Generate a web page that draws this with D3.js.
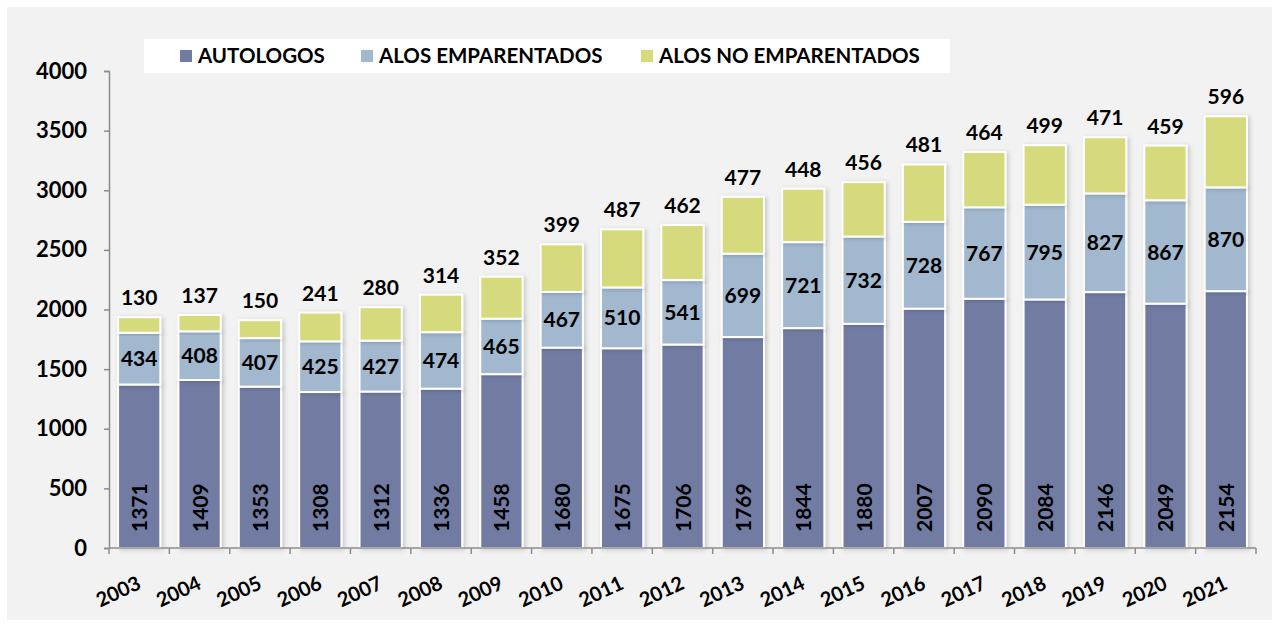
<!DOCTYPE html>
<html>
<head>
<meta charset="utf-8">
<script src="https://cdn.jsdelivr.net/npm/d3@7"></script>
<style>
  body { margin: 0; background: #fff; }
  svg { display: block; font-family: Lato, "Open Sans", sans-serif; }
</style>
</head>
<body>
<div id="chart"></div>
<script>
/* datos del gráfico */
var years = ["2003","2004","2005","2006","2007","2008","2009","2010","2011","2012",
             "2013","2014","2015","2016","2017","2018","2019","2020","2021"];
var autologos = [1371,1409,1353,1308,1312,1336,1458,1680,1675,1706,1769,1844,1880,2007,2090,2084,2146,2049,2154];
var alosEmp   = [434,408,407,425,427,474,465,467,510,541,699,721,732,728,767,795,827,867,870];
var alosNoEmp = [130,137,150,241,280,314,352,399,487,462,477,448,456,481,464,499,471,459,596];
var seriesNames = ["AUTOLOGOS", "ALOS EMPARENTADOS", "ALOS NO EMPARENTADOS"];
var yTicks = [0,500,1000,1500,2000,2500,3000,3500,4000];

var colores = ["#727ca3", "#a1b8cf", "#d5da7b"];

var W = 1279, H = 627;
var margin = { top: 71, right: 23, bottom: 79, left: 109 };

var svg = d3.select("#chart").append("svg")
    .attr("width", W).attr("height", H);

//fondo gris
svg.append("rect").attr("x", 7).attr("y", 7).attr("width", W - 14).attr("height", H - 14)
    .attr("fill", "#f2f2f2");

var defs = svg.append("defs");
var f = defs.append("filter").attr("id", "sombra")
    .attr("x", "-20%").attr("y", "-20%").attr("width", "140%").attr("height", "140%");
f.append("feDropShadow").attr("dx", 2).attr("dy", 1).attr("stdDeviation", 2)
    .attr("flood-color", "#000").attr("flood-opacity", 0.18);

var x = d3.scaleBand().domain(years)
    .range([margin.left, W - margin.right]).paddingInner(0.3).paddingOuter(0.15);
var y = d3.scaleLinear().domain([0, 4000]).range([H - margin.bottom, margin.top]);

var datos = years.map(function(yr, i) {
  return { year: yr, a: autologos[i], e: alosEmp[i], n: alosNoEmp[i] };
});
var stack = d3.stack().keys(["a", "e", "n"])(datos);

//barras apiladas
var g = svg.append("g");
stack.forEach(function(capa, k) {
  g.append("g").selectAll("rect")
    .data(capa).enter().append("rect")
      .attr("x", function(d) { return x(d.data.year); })
      .attr("y", function(d) { return y(d[1]); })
      .attr("width", x.bandwidth())
      .attr("height", function(d) { return y(d[0]) - y(d[1]); })
      .attr("fill", colores[k])
      .attr("stroke", "#fff")
      .attr("stroke-width", 2)
      .attr("filter", "url(#sombra)");
});

//eje Y
var yAxis = svg.append("g")
    .attr("transform", "translate(" + margin.left + ",0)")
    .call(d3.axisLeft(y).tickValues(yTicks).tickFormat(d3.format("d")).tickSize(5).tickPadding(17));
yAxis.select(".domain").attr("stroke", "#8c8c8c").attr("stroke-width", 1.5);
yAxis.selectAll(".tick line").attr("stroke", "#8c8c8c").attr("stroke-width", 1.5);
yAxis.selectAll("text").attr("font-size", 22).attr("font-weight", "bold")
    .attr("fill", "#000").style("font-family", "Lato, sans-serif");

//eje X
var x0 = H - margin.bottom;
svg.append("line").attr("x1", margin.left).attr("x2", W - margin.right)
    .attr("y1", x0).attr("y2", x0).attr("stroke", "#8c8c8c").attr("stroke-width", 1.5);
var bordes = d3.range(years.length + 1).map(function(i) { return margin.left + i * (W - margin.right - margin.left) / years.length; });
svg.selectAll(".xt").data(bordes).enter().append("line")
    .attr("x1", function(d) { return d; }).attr("x2", function(d) { return d; })
    .attr("y1", x0).attr("y2", x0 + 6)
    .attr("stroke", "#8c8c8c").attr("stroke-width", 1.5);

svg.selectAll(".yr").data(years).enter().append("text")
    .attr("transform", function(d) {
      return "translate(" + (x(d) + x.bandwidth() / 2 + 3) + "," + (x0 + 40) + ") rotate(-25)";
    })
    .attr("text-anchor", "end")
    .attr("font-size", 20).attr("font-weight", "bold")
    .text(function(d) { return d; });

//etiquetas autologos (verticales)
svg.selectAll(".la").data(datos).enter().append("text")
    .attr("transform", function(d) {
      return "translate(" + (x(d.year) + x.bandwidth() / 2 + 8) + "," + (y(0) - 16) + ") rotate(-90)";
    })
    .attr("font-size", 21).attr("font-weight", "bold")
    .text(function(d) { return d.a; });

//etiquetas emparentados (centradas)
svg.selectAll(".le").data(datos).enter().append("text")
    .attr("x", function(d) { return x(d.year) + x.bandwidth() / 2; })
    .attr("y", function(d) { return y(d.a + d.e / 2); })
    .attr("dy", "0.36em")
    .attr("text-anchor", "middle")
    .attr("font-size", 21).attr("font-weight", "bold")
    .text(function(d) { return d.e; });

//etiquetas no emparentados (encima)
svg.selectAll(".ln").data(datos).enter().append("text")
    .attr("x", function(d) { return x(d.year) + x.bandwidth() / 2; })
    .attr("y", function(d) { return y(d.a + d.e + d.n) - 12; })
    .attr("text-anchor", "middle")
    .attr("font-size", 21).attr("font-weight", "bold")
    .text(function(d) { return d.n; });

//leyenda
svg.append("rect").attr("x", 144).attr("y", 39).attr("width", 806).attr("height", 34).attr("fill", "#fff");
var legX = [180, 361, 641];
seriesNames.forEach(function(nombre, i) {
  svg.append("rect").attr("x", legX[i]).attr("y", 50).attr("width", 12).attr("height", 12)
      .attr("fill", colores[i]);
  svg.append("text").attr("x", legX[i] + 18).attr("y", 63)
      .attr("font-size", 20.5).attr("font-weight", "bold")
      .text(nombre);
});
</script>
</body>
</html>
